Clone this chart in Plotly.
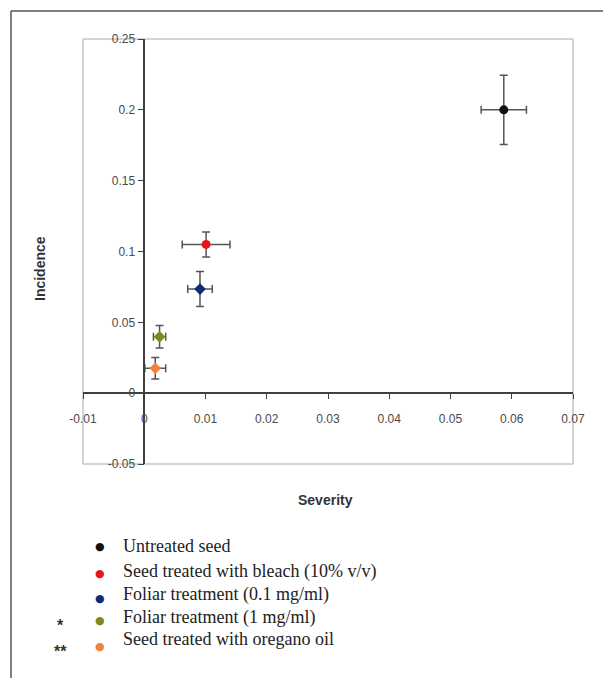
import plotly.graph_objects as go

# ---- data ----
names = ["Untreated seed", "Seed treated with bleach (10% v/v)", "Foliar treatment (0.1 mg/ml)",
         "Foliar treatment (1 mg/ml)", "Seed treated with oregano oil"]
severity = [0.0587, 0.0101, 0.0091, 0.0025, 0.0018]
severity_err = [0.0037, 0.0039, 0.0020, 0.0010, 0.0017]
incidence = [0.200, 0.105, 0.0735, 0.0398, 0.0176]
incidence_err = [0.0245, 0.0088, 0.0123, 0.0080, 0.0076]
colors = ["#111111", "#e8141b", "#122a7a", "#7e8a1c", "#f0803c"]
symbols = ["circle", "circle", "diamond", "diamond", "diamond"]
stars = ["", "", "", "*", "**"]

x_ticks = [-0.01, 0, 0.01, 0.02, 0.03, 0.04, 0.05, 0.06, 0.07]
x_ticktext = ["-0.01", "0", "0.01", "0.02", "0.03", "0.04", "0.05", "0.06", "0.07"]
y_ticks = [-0.05, 0, 0.05, 0.1, 0.15, 0.2, 0.25]
y_ticktext = ["-0.05", "0", "0.05", "0.1", "0.15", "0.2", "0.25"]
x_range = [-0.01, 0.07]
y_range = [-0.05, 0.25]

W, H = 603, 678
L, R, T, B = 83, 30, 39, 214

fig = go.Figure()
for i in range(len(names)):
    fig.add_trace(go.Scatter(
        x=[severity[i]], y=[incidence[i]], mode="markers", name=names[i], showlegend=False,
        marker=dict(color=colors[i], size=9, symbol=symbols[i]),
        error_x=dict(type="data", array=[severity_err[i]], color="#555555", thickness=1.5, width=4),
        error_y=dict(type="data", array=[incidence_err[i]], color="#555555", thickness=1.5, width=4),
    ))

tick_font = dict(family="Liberation Sans, Arial", size=12, color="#4a4a4a")
fig.update_layout(
    width=W, height=H, margin=dict(l=L, r=R, t=T, b=B),
    paper_bgcolor="white", plot_bgcolor="white",
    xaxis=dict(range=x_range, tickvals=x_ticks, ticktext=x_ticktext, showgrid=False, zeroline=False,
               showline=True, linecolor="#404040", linewidth=1.5, ticks="outside", ticklen=5,
               tickcolor="#404040", anchor="free", ticklabelstandoff=10,
               position=(0 - y_range[0]) / (y_range[1] - y_range[0]), tickfont=tick_font),
    yaxis=dict(range=y_range, tickvals=y_ticks, ticktext=y_ticktext, showgrid=False, zeroline=False,
               showline=True, linecolor="#404040", linewidth=1.5, ticks="outside", ticklen=6,
               tickcolor="#404040", anchor="free",
               position=(0 - x_range[0]) / (x_range[1] - x_range[0]), tickfont=tick_font),
    showlegend=False,
)

# plot-area border
fig.add_shape(type="rect", xref="paper", yref="paper", x0=0, x1=1, y0=0, y1=1,
              line=dict(color="#a8a8a8", width=1), layer="below")

# outer frame (top and left edges)
pw, ph = W - L - R, H - T - B
def px(xp): return (xp - L) / pw
def py(yp): return (H - B - yp) / ph
fig.add_shape(type="line", xref="paper", yref="paper", x0=px(11), x1=px(W + 5), y0=py(11), y1=py(11),
              line=dict(color="#555555", width=1.5))
fig.add_shape(type="line", xref="paper", yref="paper", x0=px(11), x1=px(11), y0=py(11), y1=py(H + 5),
              line=dict(color="#555555", width=1.5))

# axis titles
fig.add_annotation(text="<b>Severity</b>", xref="paper", yref="paper", x=px(325), y=py(500),
                   xanchor="center", yanchor="middle",
                   showarrow=False, font=dict(family="Liberation Sans, Arial", size=14, color="#333333"))
fig.add_annotation(text="<b>Incidence</b>", xref="paper", yref="paper", x=px(40), y=py(269),
                   xanchor="center", yanchor="middle", showarrow=False, textangle=-90,
                   font=dict(family="Liberation Sans, Arial", size=14, color="#333333"))

# custom legend
row_y = [546, 571, 594, 617, 639]
dot_y = [546, 573, 598, 620, 646]
for i in range(len(names)):
    fig.add_annotation(text="\u25CF", xref="paper", yref="paper", x=px(100), y=py(dot_y[i]),
                       xanchor="center", yanchor="middle",
                       showarrow=False, font=dict(family="DejaVu Sans", size=11, color=colors[i]))
    fig.add_annotation(text=names[i], xref="paper", yref="paper", x=px(121), y=py(row_y[i]),
                       xanchor="left", yanchor="middle", showarrow=False,
                       font=dict(family="Liberation Serif, Times New Roman", size=18, color="#222222"))
    if stars[i]:
        fig.add_annotation(text="<b>" + stars[i] + "</b>", xref="paper", yref="paper", x=px(60),
                           y=py(dot_y[i] + 5), xanchor="center", yanchor="middle", showarrow=False,
                           font=dict(family="Liberation Sans, Arial", size=16, color="#333333"))

fig.write_html("out.html")
